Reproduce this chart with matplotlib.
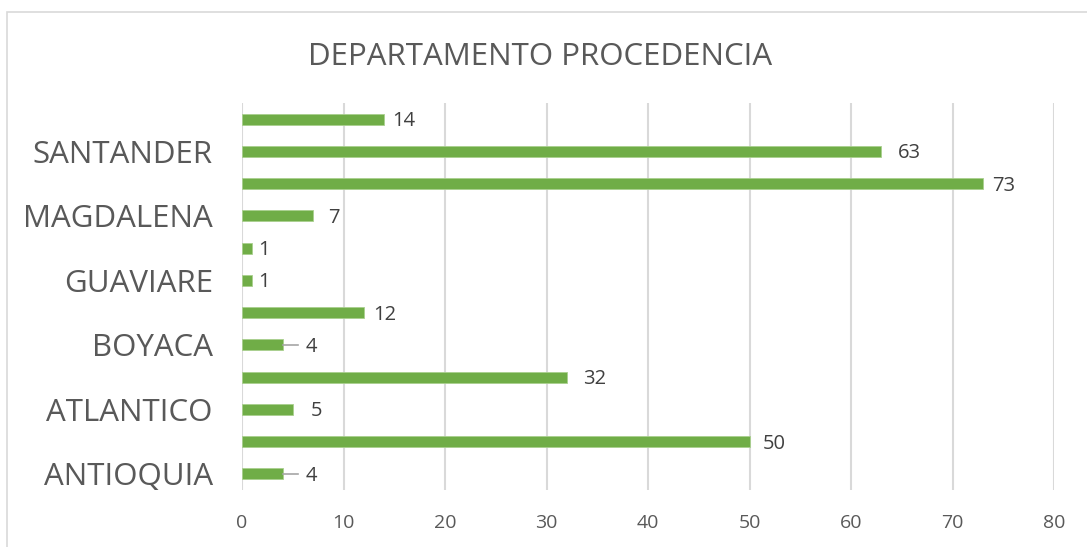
import matplotlib
matplotlib.use("Agg")
import matplotlib.pyplot as plt
from matplotlib.patches import Rectangle

plt.rcParams['font.family'] = ['Open Sans', 'DejaVu Sans']

# Departments (every other category name is shown on the axis)
categories = ["ANTIOQUIA", "", "ATLANTICO", "", "BOYACA", "", "GUAVIARE", "",
              "MAGDALENA", "", "SANTANDER", ""]
values = [4, 50, 5, 32, 4, 12, 1, 1, 7, 73, 63, 14]
x_ticks = [0, 10, 20, 30, 40, 50, 60, 70, 80]
title = "DEPARTAMENTO PROCEDENCIA"

# label gap (pixels) after each bar end; small bars get a leader line
label_gap_px = [23, 13, 18, 16, 23, 9, 6, 6, 15, 9, 16, 8]
leader = [True, False, False, False, True, False, False, False, False, False, False, False]

W, H = 1087, 547
fig = plt.figure(figsize=(W / 100, H / 100), dpi=100)

# chart frame
fig.patches.append(Rectangle((7 / W, -0.1), 1.2, 1 - 12 / H + 0.1,
                             transform=fig.transFigure, fill=False,
                             edgecolor="#d9d9d9", linewidth=1.2))

ax = fig.add_axes([242 / W, 1 - 490 / H, (1054 - 242) / W, (490 - 103) / H])
ypos = list(range(len(values)))
ax.barh(ypos, values, height=0.34, color="#70ad47", edgecolor="#a9d08e",
        linewidth=0.6, zorder=3)

ax.set_xlim(0, 80)
ax.set_ylim(-0.5, len(values) - 0.5)
ax.set_xticks(x_ticks)
ax.set_xticklabels([str(t) for t in x_ticks], fontsize=14, color="#595959")
ax.set_yticks(ypos)
ax.set_yticklabels(categories, fontsize=22.5, color="#595959")
ax.tick_params(axis="both", length=0)
ax.tick_params(axis="x", pad=17)
ax.tick_params(axis="y", pad=21)
ax.grid(axis="x", color="#d9d9d9", linewidth=1.5, zorder=0)
for s in ax.spines.values():
    s.set_visible(False)

px_per_unit = (1054 - 242) / 80
for y, v, gap, ld in zip(ypos, values, label_gap_px, leader):
    if ld:
        ax.plot([v, v + 15 / px_per_unit], [y, y], color="#a6a6a6",
                linewidth=1.2, zorder=4)
    ax.annotate(str(v), xy=(v, y), xytext=(gap * 0.72, -1.5),
                textcoords="offset points", va="center", ha="left",
                fontsize=14.5, color="#404040", zorder=5)

fig.text(540 / W, 1 - 57 / H, title, ha="center", va="center",
         fontsize=22.5, color="#595959")

fig.savefig("out.png", dpi=100)
